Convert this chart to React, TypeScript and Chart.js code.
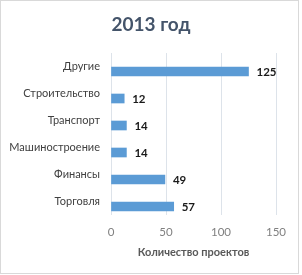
import React, { useEffect, useRef } from "react";
import { Chart, registerables } from "chart.js";

Chart.register(...registerables);

const chartTitle = "2013 год";
const axisTitle = "Количество проектов";
const categories = ["Другие", "Строительство", "Транспорт", "Машиностроение", "Финансы", "Торговля"];
const projectCounts = [125, 12, 14, 14, 49, 57];
const xTicks = [0, 50, 100, 150];

const FONT = "Lato, 'Open Sans', sans-serif";

const decorPlugin = {
  id: "decor",
  beforeDraw(chart: any) {
    const { ctx, width, height } = chart;
    ctx.save();
    ctx.fillStyle = "#ffffff";
    ctx.fillRect(0, 0, width, height);
    ctx.strokeStyle = "#d9d9d9";
    ctx.lineWidth = 1;
    ctx.strokeRect(0.5, 0.5, 298, 273);
    ctx.restore();
  },
  afterDatasetsUpdate(chart: any) {
    const meta = chart.getDatasetMeta(0);
    meta.data.forEach((el: any) => {
      el.y += 5;
    });
  },
  afterDraw(chart: any) {
    const { ctx, chartArea } = chart;
    ctx.save();
    // title
    ctx.fillStyle = "#44546a";
    ctx.font = `bold 19px ${FONT}`;
    ctx.textAlign = "center";
    ctx.textBaseline = "middle";
    ctx.fillText(chartTitle, 151, 25);
    // axis title
    ctx.fillStyle = "#595959";
    ctx.font = `bold 11px ${FONT}`;
    ctx.fillText(axisTitle, (chartArea.left + chartArea.right) / 2, 252);
    // data labels
    const meta = chart.getDatasetMeta(0);
    ctx.fillStyle = "#1a1a1a";
    ctx.font = `bold 11.5px ${FONT}`;
    ctx.textAlign = "left";
    meta.data.forEach((el: any, i: number) => {
      ctx.fillText(String(projectCounts[i]), el.x + 8, el.y + 0.5);
    });
    ctx.restore();
  },
};

export default function App() {
  const ref = useRef<HTMLCanvasElement>(null);
  useEffect(() => {
    if (!ref.current) return;
    const chart = new Chart(ref.current, {
      type: "bar",
      data: {
        labels: categories,
        datasets: [
          {
            data: projectCounts,
            backgroundColor: "#5b9bd5",
            borderColor: "#6fa8dc",
            borderWidth: 0,
            barThickness: 9,
          },
        ],
      },
      options: {
        indexAxis: "y",
        animation: false,
        responsive: false,
        devicePixelRatio: 1,
        layout: { padding: { top: 53, right: 26, left: 0, bottom: 0 } },
        plugins: { legend: { display: false }, tooltip: { enabled: false }, title: { display: false } },
        scales: {
          x: {
            min: 0,
            max: 150,
            afterBuildTicks(axis: any) {
              axis.ticks = xTicks.map((v) => ({ value: v }));
            },
            afterFit(axis: any) {
              axis.height = 60;
            },
            grid: { color: "#dde3ea", drawTicks: false, lineWidth: 1 },
            border: { display: false },
            ticks: { color: "#808080", font: { family: FONT, size: 11.5 }, padding: 10 },
          },
          y: {
            afterFit(axis: any) {
              axis.width = 111;
            },
            grid: { display: false, drawTicks: false },
            border: { display: false },
            ticks: { color: "#404040", font: { family: FONT, size: 11 }, padding: 11 },
          },
        },
      },
      plugins: [decorPlugin],
    });
    return () => chart.destroy();
  }, []);
  return (
    <div style={{ position: "absolute", left: 0, top: 0, width: 302, height: 275 }}>
      <canvas ref={ref} width={302} height={275} style={{ width: 302, height: 275 }} />
    </div>
  );
}
